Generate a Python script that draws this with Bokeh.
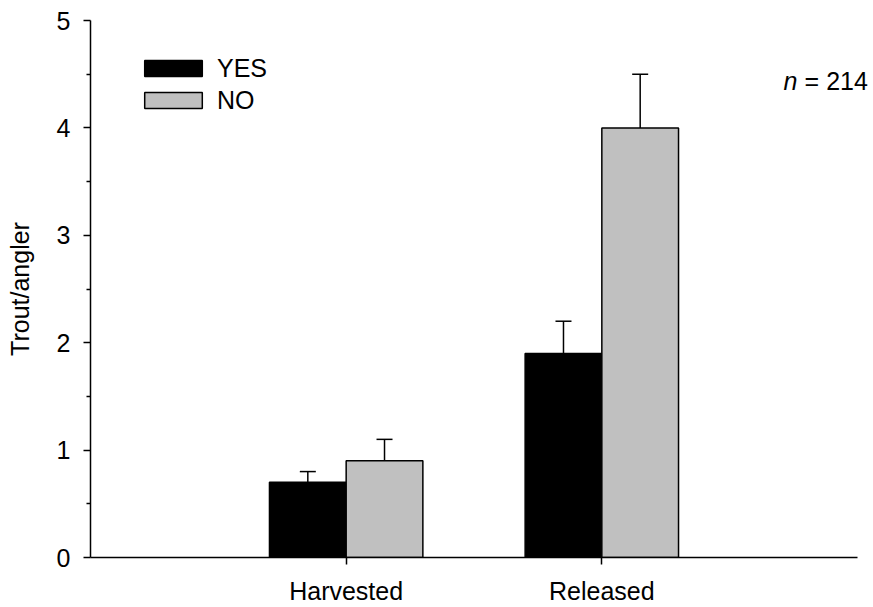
from bokeh.plotting import figure
from bokeh.models import (ColumnDataSource, FixedTicker, Range1d, Legend, LegendItem,
                          Label, Whisker, TeeHead)
from bokeh.embed import file_html
from bokeh.resources import INLINE

# ---- data ----
categories = ["Harvested", "Released"]
yes_values = [0.7, 1.9]
yes_errors = [0.1, 0.3]
no_values = [0.9, 4.0]
no_errors = [0.2, 0.5]
y_ticks = [0, 1, 2, 3, 4, 5]
y_minor = [0.5, 1.5, 2.5, 3.5, 4.5]
n_label = "= 214"

FONT = "Liberation Sans"
FS = "25px"
BAR_W = 0.3

# layout (pixels)
AXIS_PX = 767      # length of the drawn x axis
FRAME_PX = 783     # plot frame width (extra room for the n label)
n_axes = len(categories) + 1
x_end = n_axes * FRAME_PX / AXIS_PX

cat_pos = [i + 1 for i in range(len(categories))]

p = figure(width=873, height=607, output_backend="svg", toolbar_location=None,
           x_range=Range1d(0, x_end), y_range=Range1d(0, 5),
           min_border_left=90, min_border_right=0, min_border_top=20, min_border_bottom=50)
p.outline_line_color = None
p.xgrid.visible = False
p.ygrid.visible = False
p.background_fill_color = "white"
p.border_fill_color = "white"

yes_src = ColumnDataSource(dict(
    x=[c - BAR_W / 2 for c in cat_pos], top=yes_values,
    lo=[v - e for v, e in zip(yes_values, yes_errors)],
    hi=[v + e for v, e in zip(yes_values, yes_errors)]))
no_src = ColumnDataSource(dict(
    x=[c + BAR_W / 2 for c in cat_pos], top=no_values,
    lo=[v - e for v, e in zip(no_values, no_errors)],
    hi=[v + e for v, e in zip(no_values, no_errors)]))

r_yes = p.vbar(x="x", top="top", bottom=0, width=BAR_W, source=yes_src,
               fill_color="black", line_color="black", line_width=1.5)
r_no = p.vbar(x="x", top="top", bottom=0, width=BAR_W, source=no_src,
              fill_color="#C0C0C0", line_color="black", line_width=1.5)

for src in (yes_src, no_src):
    w = Whisker(base="x", lower="lo", upper="hi", source=src,
                line_color="black", line_width=1.5,
                upper_head=TeeHead(size=16, line_color="black", line_width=1.5),
                lower_head=TeeHead(size=16, line_color="black", line_width=1.5))
    p.add_layout(w)

# axes
p.xaxis.ticker = FixedTicker(ticks=cat_pos)
p.xaxis.bounds = (0, n_axes)
p.xaxis.major_label_overrides = {c: name for c, name in zip(cat_pos, categories)}
p.xaxis.minor_tick_line_color = None
p.xaxis.major_tick_in = 0
p.xaxis.major_tick_out = 7
p.xaxis.major_label_standoff = 12

p.yaxis.ticker = FixedTicker(ticks=y_ticks, minor_ticks=y_minor)
p.yaxis.major_tick_in = 0
p.yaxis.major_tick_out = 7
p.yaxis.minor_tick_in = 0
p.yaxis.minor_tick_out = 4
p.yaxis.major_label_standoff = 13
p.yaxis.axis_label = "Trout/angler"
p.yaxis.axis_label_standoff = 20

for ax in (p.xaxis[0], p.yaxis[0]):
    ax.axis_line_width = 1.5
    ax.major_tick_line_width = 1.5
    ax.minor_tick_line_width = 1.5
    ax.axis_line_color = "black"
    ax.major_tick_line_color = "black"
    ax.major_label_text_font = FONT
    ax.major_label_text_font_size = FS
    ax.major_label_text_color = "black"
    ax.axis_label_text_font = FONT
    ax.axis_label_text_font_size = FS
    ax.axis_label_text_font_style = "normal"
    ax.axis_label_text_color = "black"

legend = Legend(items=[LegendItem(label="YES", renderers=[r_yes]),
                       LegendItem(label="NO", renderers=[r_no])],
                location=(47, 441), padding=0, margin=0, spacing=0,
                glyph_width=72, glyph_height=20, label_height=32,
                label_standoff=8, label_text_font=FONT, label_text_font_size=FS,
                label_text_color="black",
                border_line_color=None, background_fill_alpha=0)
p.add_layout(legend)

N_X, N_Y = 2.711, 4.44
p.add_layout(Label(x=N_X, y=N_Y, text="n", text_font=FONT, text_font_size=FS,
                   text_font_style="italic", text_baseline="middle", text_align="left",
                   text_color="black"))
p.add_layout(Label(x=N_X, y=N_Y, x_offset=21, text=n_label, text_font=FONT,
                   text_font_size=FS, text_baseline="middle", text_align="left",
                   text_color="black"))

open("out.html", "w").write(file_html(p, INLINE))
